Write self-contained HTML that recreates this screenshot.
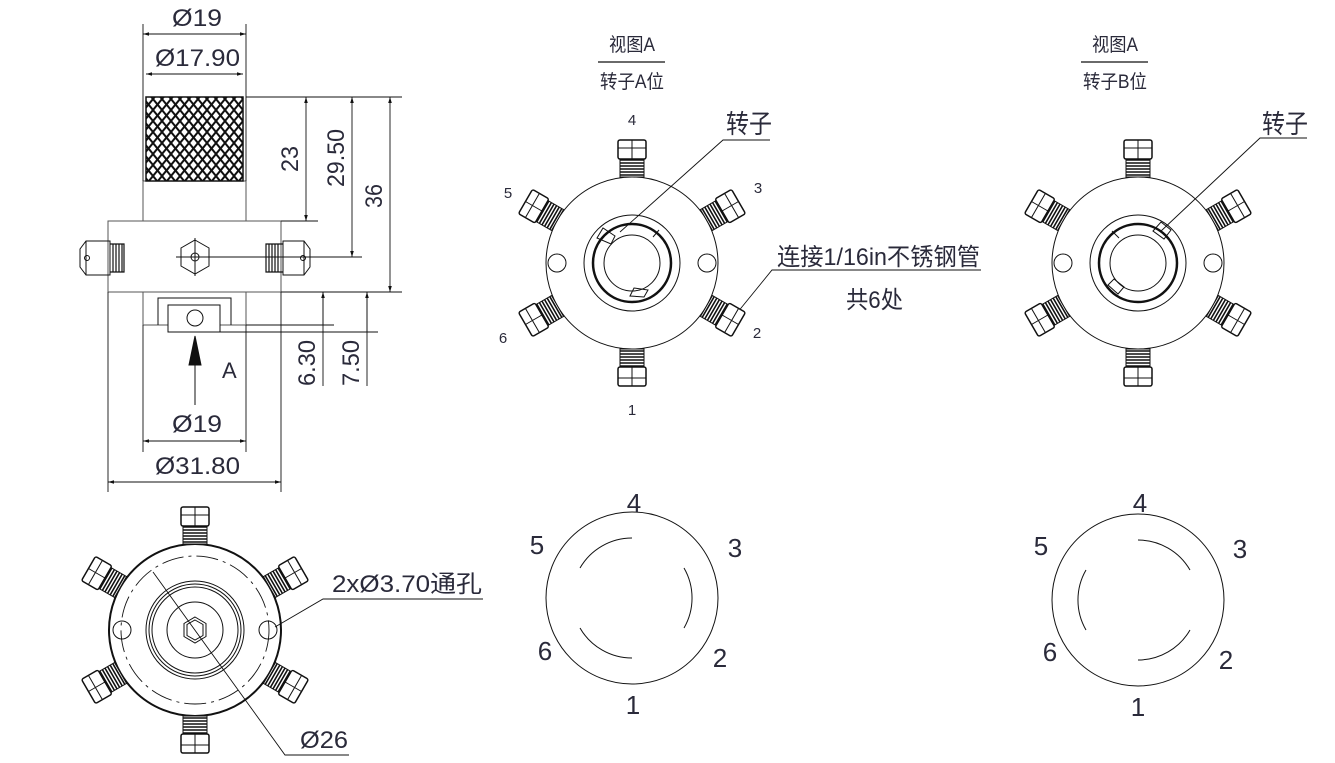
<!DOCTYPE html>
<html><head><meta charset="utf-8"><style>
html,body{margin:0;padding:0;background:#fff}
svg{display:block}
text{font-family:"Liberation Sans","Noto Sans CJK SC",sans-serif;fill:#2a2a3a}
</style></head><body>
<svg id="s" width="1335" height="763" viewBox="0 0 1335 763" xmlns="http://www.w3.org/2000/svg" fill="none" stroke="#111" stroke-width="1">
<defs>
<pattern id="kn" width="9" height="11" patternUnits="userSpaceOnUse">
<rect width="9" height="11" fill="#fff" stroke="none"/>
<path d="M0 0L9 11M9 0L0 11" stroke="#111" stroke-width="2"/>
</pattern>
<marker id="ar" viewBox="0 0 10 10" refX="10" refY="5" markerWidth="10" markerHeight="6" orient="auto-start-reverse" markerUnits="userSpaceOnUse"><path d="M0 2L10 5L0 8z" fill="#111" stroke="none"/></marker>
</defs>

<!-- ===== side view ===== -->
<g stroke="#555">
<rect x="143" y="181" width="103" height="40"/>
<rect x="108" y="221" width="173" height="71"/>
<rect x="143" y="292" width="103" height="33"/>
</g>
<rect x="146" y="97" width="97" height="84" fill="url(#kn)" stroke="#111" stroke-width="1.5"/>
<path d="M158 325V298H231V325" />
<rect x="168" y="305" width="52" height="27" fill="#fff"/>
<circle cx="195" cy="318" r="8"/>
<polygon points="195,240 209,248 209,266 195,274 181,266 181,248"/>
<circle cx="195" cy="257" r="4"/>
<line x1="176" y1="257" x2="362" y2="257"/>
<line x1="195" y1="238" x2="195" y2="276"/>
<polygon points="80,249 86,241 110,241 110,275 86,275 80,267"/>
<line x1="86" y1="241" x2="86" y2="275"/>
<circle cx="87" cy="258" r="2.5"/>
<path d="M110 244H124V272H110M113 244V272M116 244V272M119 244V272M122 244V272" stroke-width="1.2"/>
<polygon points="310,249 304,241 283,241 283,275 304,275 310,267"/>
<line x1="304" y1="241" x2="304" y2="275"/>
<circle cx="303" cy="258" r="2.5"/>
<path d="M283 244H266V272H283M269 244V272M272 244V272M275 244V272M278 244V272" stroke-width="1.2"/>
<line x1="195" y1="405" x2="195" y2="360"/>
<polygon points="189,365 201,365 195,336" fill="#111"/>
<text x="222" y="378" font-size="22" stroke="none">A</text>

<g stroke-width="0.9">
<path d="M143 24V181M246 24V181"/>
<line x1="143" y1="34" x2="246" y2="34" marker-start="url(#ar)" marker-end="url(#ar)"/>
<line x1="146" y1="74" x2="243" y2="74" marker-start="url(#ar)" marker-end="url(#ar)"/>
<path d="M246 97H402M281 221H318M281 292H402"/>
<line x1="306" y1="97" x2="306" y2="221" marker-start="url(#ar)" marker-end="url(#ar)"/>
<line x1="352" y1="97" x2="352" y2="257" marker-start="url(#ar)" marker-end="url(#ar)"/>
<line x1="390" y1="97" x2="390" y2="292" marker-start="url(#ar)" marker-end="url(#ar)"/>
<path d="M246 325H334M220 332H378"/>
<line x1="323" y1="325" x2="323" y2="292" marker-end="url(#ar)"/>
<line x1="323" y1="292" x2="323" y2="386"/>
<line x1="367" y1="332" x2="367" y2="292" marker-end="url(#ar)"/>
<line x1="367" y1="292" x2="367" y2="386"/>
<path d="M143 325V452M246 325V452M108 292V492M281 292V492"/>
<line x1="143" y1="441" x2="246" y2="441" marker-start="url(#ar)" marker-end="url(#ar)"/>
<line x1="108" y1="482" x2="281" y2="482" marker-start="url(#ar)" marker-end="url(#ar)"/>
</g>
<g font-size="24" stroke="none">
<text x="172" y="26" textLength="50" lengthAdjust="spacingAndGlyphs">Ø19</text>
<text x="155" y="66" textLength="85" lengthAdjust="spacingAndGlyphs">Ø17.90</text>
<text x="172" y="432" textLength="50" lengthAdjust="spacingAndGlyphs">Ø19</text>
<text x="155" y="474" textLength="85" lengthAdjust="spacingAndGlyphs">Ø31.80</text>
<text transform="translate(298,159) rotate(-90)" text-anchor="middle" textLength="26" lengthAdjust="spacingAndGlyphs">23</text>
<text transform="translate(344,158) rotate(-90)" text-anchor="middle" textLength="58" lengthAdjust="spacingAndGlyphs">29.50</text>
<text transform="translate(382,196) rotate(-90)" text-anchor="middle" textLength="24" lengthAdjust="spacingAndGlyphs">36</text>
<text transform="translate(315,363) rotate(-90)" text-anchor="middle" textLength="46" lengthAdjust="spacingAndGlyphs">6.30</text>
<text transform="translate(359,363) rotate(-90)" text-anchor="middle" textLength="46" lengthAdjust="spacingAndGlyphs">7.50</text>
</g>

<circle cx="195" cy="630" r="86" stroke-width="2"/>
<circle cx="195" cy="630" r="74" stroke-dasharray="22 5 3 5" stroke-width="0.9"/>
<circle cx="122" cy="630" r="9"/><circle cx="268" cy="630" r="9"/>
<circle cx="195" cy="630" r="49"/><circle cx="195" cy="630" r="46"/><circle cx="195" cy="630" r="43"/>
<circle cx="195" cy="630" r="28"/>
<polygon points="195,617 206,623.5 206,636.5 195,643 184,636.5 184,623.5"/>
<polygon points="195,620 203,624.5 203,635.5 195,640 187,635.5 187,624.5"/>
<path d="M153 572L285 755H349" stroke-width="0.9"/>
<path d="M275 627L323 599H483" stroke-width="0.9"/>
<text x="300" y="748" font-size="24" stroke="none" textLength="48" lengthAdjust="spacingAndGlyphs">Ø26</text>
<text x="332" y="592" font-size="24" stroke="none" textLength="150" lengthAdjust="spacingAndGlyphs">2xØ3.70通孔</text>

<g>
<circle cx="632" cy="263" r="86"/>
<circle cx="557" cy="263" r="9"/><circle cx="707" cy="263" r="9"/>
<circle cx="632" cy="263" r="48"/>
<circle cx="632" cy="263" r="39" stroke-width="2.5"/>
<circle cx="632" cy="263" r="28"/>
</g>
<g transform="translate(632,263)">
<path d="M-35 -25L-29 -35L-17 -27L-21 -19Z"/><path d="M27 -33L21 -26"/><path d="M-2 33L2 25L16 27L12 34Z"/>
</g>
<g transform="translate(1138,263)">
<circle r="86"/><circle cx="-75" r="9"/><circle cx="75" r="9"/>
<circle r="48"/><circle r="39" stroke-width="2.5"/><circle r="28"/>
<path d="M15 -32L23 -41L33 -33L26 -24Z"/><path d="M-26 -32L-19 -25"/><path d="M-30 22L-24 16L-14 24L-20 31Z"/>
</g>
<g font-size="15" stroke="none" text-anchor="middle">
<text x="632" y="125">4</text><text x="758" y="193">3</text><text x="508" y="198">5</text>
<text x="503" y="343">6</text><text x="757" y="338">2</text><text x="632" y="415">1</text>
</g>
<g font-size="19" stroke="none" text-anchor="middle">
<text x="632" y="51" textLength="46" lengthAdjust="spacingAndGlyphs">视图A</text>
<text x="632" y="88" textLength="64" lengthAdjust="spacingAndGlyphs">转子A位</text>
<text x="1115" y="51" textLength="46" lengthAdjust="spacingAndGlyphs">视图A</text>
<text x="1115" y="88" textLength="64" lengthAdjust="spacingAndGlyphs">转子B位</text>
</g>
<path d="M598 62H665M1081 62H1148" stroke-width="1.2"/>
<path d="M620 232L723 140H770M1160 232L1260 138H1307M737 313L772 270H981" stroke-width="0.9"/>
<g font-size="26" stroke="none">
<text x="726" y="133" textLength="46" lengthAdjust="spacingAndGlyphs">转子</text>
<text x="1262" y="133" textLength="46" lengthAdjust="spacingAndGlyphs">转子</text>
<text x="777" y="265" font-size="24" textLength="203" lengthAdjust="spacingAndGlyphs">连接1/16in不锈钢管</text>
<text x="846" y="308" font-size="24" textLength="57" lengthAdjust="spacingAndGlyphs">共6处</text>
</g>

<circle cx="632" cy="598" r="86"/>
<path d="M632 538A60 60 0 0 0 580 568M684 568A60 60 0 0 1 684 628M580 628A60 60 0 0 0 632 658"/>
<circle cx="1138" cy="600" r="86"/>
<path d="M1138 540A60 60 0 0 1 1190 570M1190 630A60 60 0 0 1 1138 660M1086 570A60 60 0 0 0 1086 630"/>
<g font-size="26" stroke="none" text-anchor="middle">
<text x="634" y="512">4</text><text x="735" y="557">3</text><text x="537" y="554">5</text>
<text x="545" y="660">6</text><text x="720" y="667">2</text><text x="633" y="714">1</text>
<text x="1140" y="512">4</text><text x="1240" y="558">3</text><text x="1041" y="555">5</text>
<text x="1050" y="661">6</text><text x="1226" y="669">2</text><text x="1138" y="716">1</text>
</g>
<g id="fits"></g>
</svg>
<script>
(function(){
var ns="http://www.w3.org/2000/svg",g=document.getElementById("fits");
function fit(cx,cy,R,a){
 var t=document.createElementNS(ns,"g");
 t.setAttribute("transform","translate("+cx+","+cy+") rotate("+a+")");
 var s='<rect x="-12" y="'+(-(R+18))+'" width="24" height="18" fill="#fff"/>';
 for(var y=R+2;y<R+18;y+=3)s+='<line x1="-12" x2="12" y1="'+(-y)+'" y2="'+(-y)+'" stroke-width="1.6"/>';
 s+='<rect x="-14" y="'+(-(R+37))+'" width="28" height="19" rx="2" fill="#fff" stroke-width="1.5"/>';
 s+='<line x1="0" x2="0" y1="'+(-(R+37))+'" y2="'+(-(R+18))+'"/>';
 s+='<line x1="-14" x2="14" y1="'+(-(R+29))+'" y2="'+(-(R+29))+'"/>';
 t.innerHTML=s;g.appendChild(t);
}
[[632,263],[1138,263],[195,630]].forEach(function(c){
 [0,60,120,180,240,300].forEach(function(a){fit(c[0],c[1],86,a);});
});
})();
</script>
</body></html>
